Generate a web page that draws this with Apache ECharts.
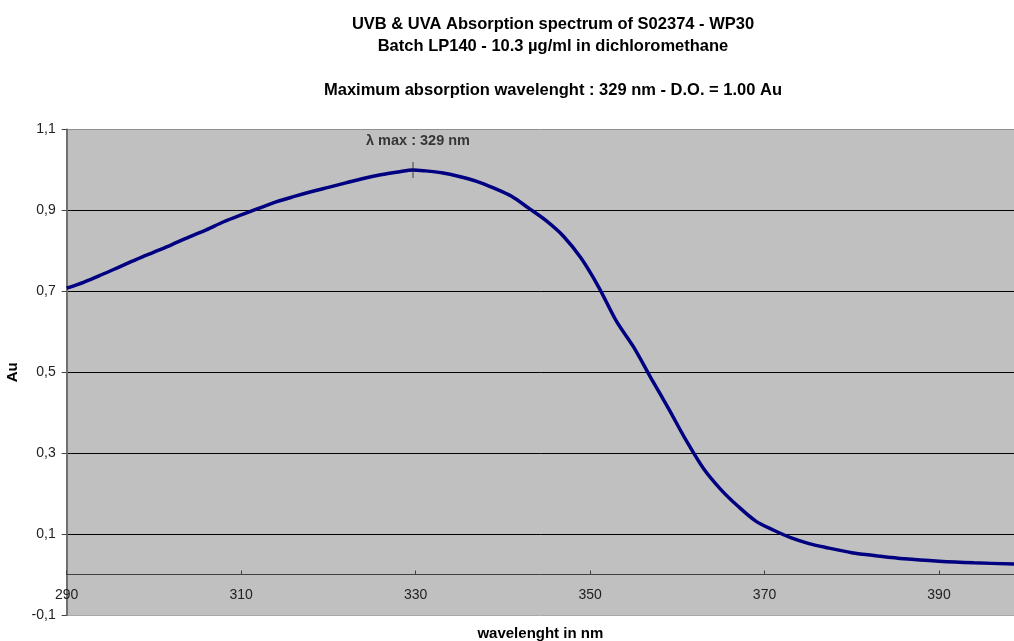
<!DOCTYPE html>
<html>
<head>
<meta charset="utf-8">
<script src="https://cdn.jsdelivr.net/npm/echarts@6/dist/echarts.min.js"></script>
<style>
html,body{margin:0;padding:0;background:#fff;}
#chart{width:1014px;height:641px;}
</style>
</head>
<body>
<div id="chart"></div>
<script>
var titleLines = ['UVB & UVA Absorption spectrum of S02374 - WP30', 'Batch LP140 - 10.3 µg/ml in dichloromethane', '', 'Maximum absorption wavelenght : 329 nm - D.O. = 1.00 Au'];
var xAxisName = 'wavelenght in nm';
var yAxisName = 'Au';
var wavelengths = [290, 292, 294, 296, 298, 300, 302, 304, 306, 308, 310, 312, 314, 316, 318, 320, 322, 324, 326, 328, 329.7, 331, 333, 335, 337, 339, 341, 343, 345, 347, 349, 351, 353, 355, 357, 359, 361, 363, 365, 367, 369, 371, 373, 375, 377, 380, 383, 386, 390, 394, 398.6];
var absorbance = [0.708, 0.723, 0.741, 0.760, 0.779, 0.797, 0.815, 0.834, 0.852, 0.872, 0.889, 0.905, 0.921, 0.934, 0.946, 0.957, 0.968, 0.979, 0.988, 0.995, 1.000, 0.998, 0.993, 0.984, 0.972, 0.955, 0.935, 0.905, 0.874, 0.835, 0.781, 0.710, 0.627, 0.562, 0.485, 0.410, 0.332, 0.262, 0.210, 0.168, 0.132, 0.110, 0.091, 0.077, 0.067, 0.054, 0.046, 0.039, 0.033, 0.029, 0.026];
var peakWavelength = 329.7;
var peakValue = 1.0;
var peakLabel = 'λ max : 329 nm';
var xMin = 290, xMax = 398.6, xStep = 20;
var yMin = -0.1, yMax = 1.1, yStep = 0.2;

var FONT = '"Liberation Sans", Arial, sans-serif';
var lineData = wavelengths.map(function (w, i) { return [w, absorbance[i]]; });

var gridTop = 129.5, gridBottomPx = 615;
// distance from grid bottom (value yMin) to the zero line, in px
var zeroOffset = (0 - yMin) / (yMax - yMin) * (gridBottomPx - gridTop);

var chart = echarts.init(document.getElementById('chart'));
chart.setOption({
  animation: false,
  backgroundColor: '#ffffff',
  title: {
    text: titleLines.join('\n'),
    left: 548,
    top: 8,
    textAlign: 'center',
    textStyle: { fontFamily: FONT, fontSize: 16.5, fontWeight: 'bold', color: '#000', lineHeight: 22 }
  },
  grid: {
    left: 66.7, right: 0, top: gridTop, bottom: 641 - gridBottomPx,
    show: true, backgroundColor: '#C0C0C0', borderWidth: 0,
    containLabel: false,
    outerBoundsMode: 'none'
  },
  xAxis: {
    type: 'value',
    min: xMin, max: xMax, interval: xStep,
    offset: -zeroOffset,
    name: xAxisName,
    nameLocation: 'middle',
    nameGap: 52,
    nameTextStyle: { fontFamily: FONT, fontSize: 15, fontWeight: 'bold', color: '#000' },
    axisLine: { onZero: false, lineStyle: { color: '#404040', width: 1 } },
    axisTick: { inside: true, length: 4, lineStyle: { color: '#404040' } },
    axisLabel: {
      fontFamily: FONT, fontSize: 14, color: '#222', margin: 14,
      showMaxLabel: false,
      formatter: function (v) { return String(Math.round(v)); }
    },
    splitLine: { show: false }
  },
  yAxis: {
    type: 'value',
    min: yMin, max: yMax, interval: yStep,
    name: yAxisName,
    nameLocation: 'middle',
    nameRotate: 90,
    nameGap: 41,
    nameTextStyle: { fontFamily: FONT, fontSize: 15, fontWeight: 'bold', color: '#000' },
    axisLine: { show: true, lineStyle: { color: '#707070', width: 2 } },
    axisTick: { show: true, length: 5, lineStyle: { color: '#404040' } },
    axisLabel: {
      fontFamily: FONT, fontSize: 14, color: '#222', margin: 11,
      formatter: function (v) { return (Math.round(v * 10) / 10).toFixed(1).replace('.', ','); }
    },
    splitLine: {
      show: true,
      lineStyle: { color: ['#a8a8a8', '#000', '#000', '#000', '#000', '#000', '#909090'], width: 1 }
    }
  },
  series: [
    {
      type: 'line',
      data: lineData,
      smooth: 0.3,
      showSymbol: false,
      lineStyle: { color: '#000080', width: 3.5 },
      z: 3
    },
    {
      type: 'scatter',
      data: [[peakWavelength, peakValue]],
      symbol: 'rect',
      symbolSize: [1, 16],
      itemStyle: { color: '#222' },
      z: 4,
      label: {
        show: true,
        position: 'top',
        distance: 13,
        offset: [5, 0],
        formatter: peakLabel,
        fontFamily: FONT, fontSize: 14.5, fontWeight: 'bold', color: '#111'
      }
    }
  ]
});
</script>
</body>
</html>
